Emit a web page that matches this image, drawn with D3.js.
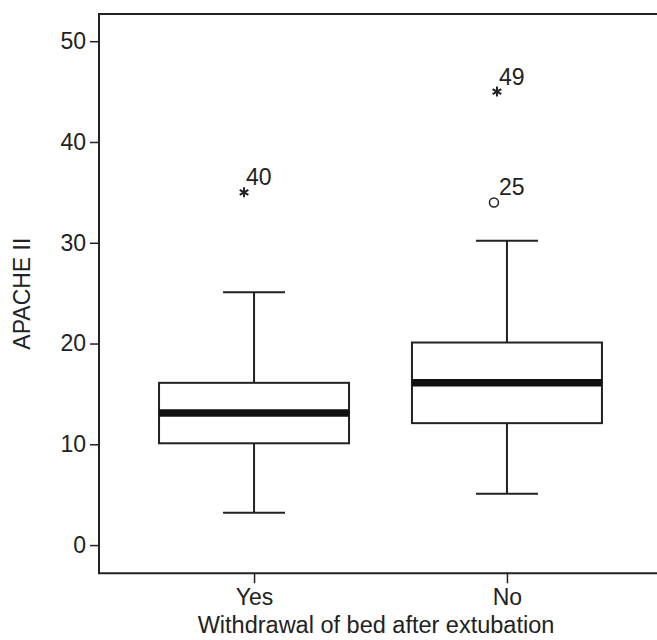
<!DOCTYPE html>
<html>
<head>
<meta charset="utf-8">
<script src="https://cdn.jsdelivr.net/npm/d3@7"></script>
<style>
  body { margin: 0; background: #fff; }
  svg text { font-family: Arial, "Liberation Sans", sans-serif; fill: #222; }
</style>
</head>
<body>
<svg id="chart" width="657" height="640"></svg>
<script>
// chart values
const groups = ["Yes", "No"]
const lowWhisker = [3.2, 5.1]
const q1 = [10.1, 12.1]
const medians = [13.1, 16.1]
const q3 = [16.1, 20.1]
const highWhisker = [25.1, 30.2]
const outlierGroup = ["Yes", "No", "No"]
const outlierValue = [35, 45, 34]
const outlierCase = ["40", "49", "25"]
const outlierKind = ["extreme", "extreme", "outlier"]
const yTicks = [0, 10, 20, 30, 40, 50]

const svg = d3.select("#chart")
const plotLeft = 99, plotTop = 14, plotBottom = 573.3, plotRight = 662
const ink = "#222"
const fontSize = 23

const y = d3.scaleLinear().domain([-2.8, 52.7]).range([plotBottom, plotTop])
const x = d3.scalePoint().domain(groups).range([plotLeft, plotRight]).padding(0.613)

const boxW = 190
const capW = 62

// frame: left, top and bottom lines only
svg.append("path")
  .attr("d", `M${plotRight},${plotTop}H${plotLeft}V${plotBottom}H${plotRight}`)
  .attr("fill", "none")
  .attr("stroke", ink)
  .attr("stroke-width", 2)

const yAxis = svg.append("g")
  .attr("transform", `translate(${plotLeft},0)`)
  .call(d3.axisLeft(y).tickValues(yTicks).tickSize(9).tickPadding(4))
yAxis.select(".domain").remove()
yAxis.selectAll("line").attr("stroke", ink).attr("stroke-width", 1.5)
yAxis.selectAll("text").attr("font-size", fontSize).attr("fill", ink)

const xAxis = svg.append("g")
  .attr("transform", `translate(0,${plotBottom})`)
  .call(d3.axisBottom(x).tickSize(10).tickPadding(5))
xAxis.select(".domain").remove()
xAxis.selectAll("line").attr("stroke", ink).attr("stroke-width", 1.5)
xAxis.selectAll("text").attr("font-size", fontSize).attr("fill", ink)

svg.append("text")
  .attr("x", 376).attr("y", 633)
  .attr("text-anchor", "middle")
  .attr("font-size", 23.5)
  .text("Withdrawal of bed after extubation")

svg.append("text")
  .attr("transform", `translate(30,${(plotTop + plotBottom) / 2}) rotate(-90)`)
  .attr("text-anchor", "middle")
  .attr("font-size", fontSize)
  .text("APACHE II")

const boxes = groups.map((g, i) => ({
  g, lo: lowWhisker[i], q1: q1[i], med: medians[i], q3: q3[i], hi: highWhisker[i]
}))

const box = svg.append("g").selectAll("g")
  .data(boxes).enter()
  .append("g")
    .attr("stroke", ink)
    .attr("fill", "none")

box.append("line")
  .attr("x1", d => x(d.g)).attr("x2", d => x(d.g))
  .attr("y1", d => y(d.hi)).attr("y2", d => y(d.q3))
  .attr("stroke-width", 2)
box.append("line")
  .attr("x1", d => x(d.g)).attr("x2", d => x(d.g))
  .attr("y1", d => y(d.q1)).attr("y2", d => y(d.lo))
  .attr("stroke-width", 2)
box.append("line")
  .attr("x1", d => x(d.g) - capW / 2).attr("x2", d => x(d.g) + capW / 2)
  .attr("y1", d => y(d.hi)).attr("y2", d => y(d.hi))
  .attr("stroke-width", 2)
box.append("line")
  .attr("x1", d => x(d.g) - capW / 2).attr("x2", d => x(d.g) + capW / 2)
  .attr("y1", d => y(d.lo)).attr("y2", d => y(d.lo))
  .attr("stroke-width", 2)
box.append("rect")
  .attr("x", d => x(d.g) - boxW / 2)
  .attr("width", boxW)
  .attr("y", d => y(d.q3))
  .attr("height", d => y(d.q1) - y(d.q3))
  .attr("fill", "#fff")
  .attr("stroke-width", 2)
box.append("line")
  .attr("x1", d => x(d.g) - boxW / 2).attr("x2", d => x(d.g) + boxW / 2)
  .attr("y1", d => y(d.med)).attr("y2", d => y(d.med))
  .attr("stroke", "#111")
  .attr("stroke-width", 7.5)

const outliers = outlierValue.map((v, i) => ({
  g: outlierGroup[i], v, label: outlierCase[i], kind: outlierKind[i]
}))

const star = (r) => {
  let p = ""
  for (let k = 0; k < 3; k++) {
    const a = Math.PI / 2 + k * Math.PI / 3
    const dx = r * Math.cos(a), dy = r * Math.sin(a)
    p += `M${-dx},${-dy}L${dx},${dy}`
  }
  return p
}

const marks = svg.append("g").selectAll("g")
  .data(outliers).enter()
  .append("g")
    .attr("transform", d => `translate(${x(d.g) - (d.kind == "extreme" ? 10 : 13)},${y(d.v)})`)

marks.filter(d => d.kind == "extreme")
  .append("path")
    .attr("d", star(5))
    .attr("stroke", ink)
    .attr("stroke-width", 2)
marks.filter(d => d.kind == "outlier")
  .append("circle")
    .attr("r", 4.5)
    .attr("fill", "#fff")
    .attr("stroke", ink)
    .attr("stroke-width", 1.5)

svg.append("g").selectAll("text")
  .data(outliers).enter()
  .append("text")
    .attr("x", d => x(d.g) - 8)
    .attr("y", d => y(d.v) - 7)
    .attr("font-size", fontSize)
    .text(d => d.label)
</script>
</body>
</html>
